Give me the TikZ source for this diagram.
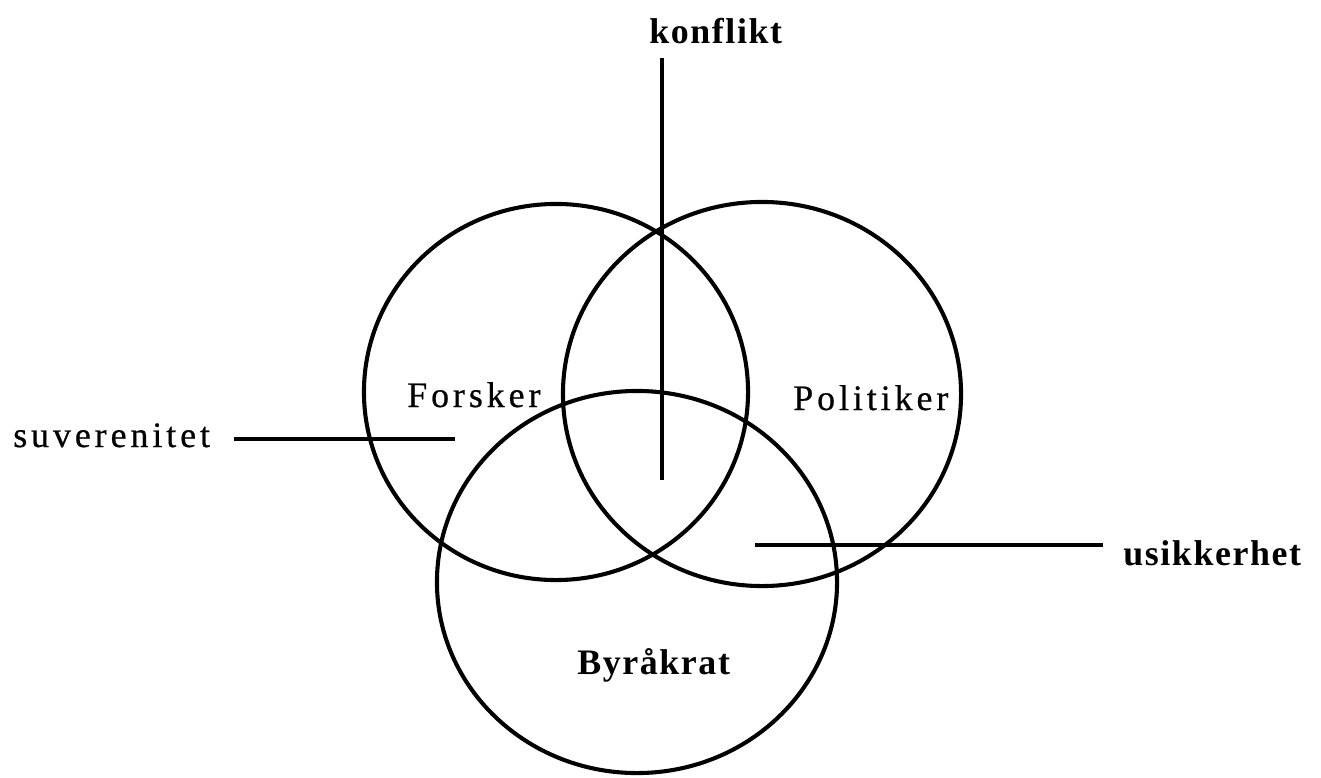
\documentclass[tikz,border=0pt]{standalone}
\usepackage{fontspec}
\setmainfont{Liberation Serif}
\usetikzlibrary{shapes.geometric, positioning}

\begin{document}
\begin{tikzpicture}[
    x=0.025cm, y=-0.025cm,
    ring/.style={ellipse, draw=black, line width=2.9pt, inner sep=0pt},
    rolle/.style={font=\fontsize{25.5}{30}\selectfont\addfontfeatures{LetterSpace=11, FakeBold=0.6},
                inner sep=0pt, anchor=base west},
    tema/.style={font=\fontsize{25.5}{30}\selectfont\bfseries\addfontfeatures{LetterSpace=4.5},
                inner sep=0pt, anchor=base west},
    strek/.style={line width=2.9pt}
]

\useasboundingbox (0,0) rectangle (1321,777);

%% SIRKLER
\node[ring, minimum width=9.6cm, minimum height=9.4cm] (forsker_ring) at (556,392) {};
\node[ring, minimum width=9.95cm, minimum height=9.6cm] (politiker_ring) at (762,394) {};
\node[ring, minimum width=10cm, minimum height=9.55cm] (byraakrat_ring) at (637,582) {};

%% ROLLER
\node[rolle] (forsker) at (407,407) {Forsker};
\node[rolle] (politiker) at (793,410) {Politiker};
\node[tema] (byraakrat) at (577,674) {Byråkrat};

%% BEGREPER
\node[tema] (konflikt) at (649,43) {konflikt};
\node[rolle] (suverenitet) at (13,447) {suverenitet};
\node[tema] (usikkerhet) at (1123,565) {usikkerhet};

\coordinate (midten) at (662,480);
\coordinate (suv_end) at (455,439);
\coordinate (usik_end) at (755,545);

\draw[strek] (konflikt.base west) ++(13,15) -- (midten);
\draw[strek] (suverenitet.base east) ++(24,-8) -- (suv_end);
\draw[strek] (usikkerhet.base west) ++(-20,-20) -- (usik_end);

\end{tikzpicture}
\end{document}
